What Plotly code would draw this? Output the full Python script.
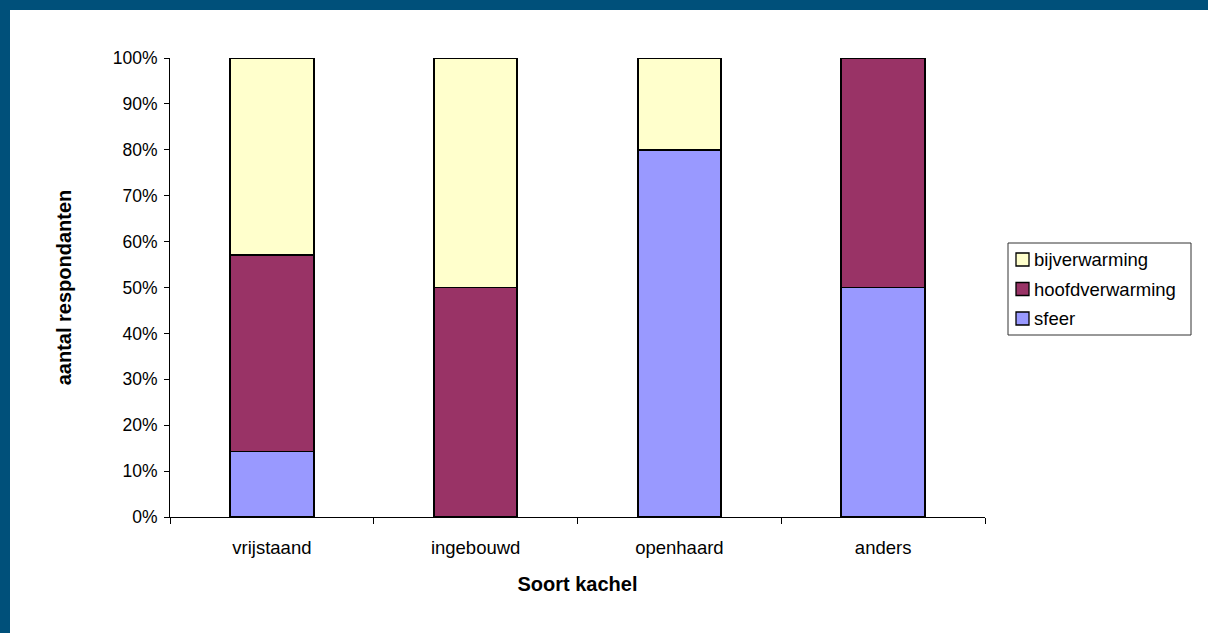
import plotly.graph_objects as go

# Aantal respondenten per soort kachel en gebruik
categories = ["vrijstaand", "ingebouwd", "openhaard", "anders"]
sfeer = [1, 0, 4, 1]
hoofdverwarming = [3, 1, 0, 1]
bijverwarming = [3, 1, 1, 0]

y_ticks = [0, 10, 20, 30, 40, 50, 60, 70, 80, 90, 100]
y_tick_labels = [f"{v}%" for v in y_ticks]

W, H = 1208, 633
L, R, T, B = 170, 223, 58, 116
FONT = "Liberation Sans, Arial, sans-serif"

series = [
    ("sfeer", sfeer, "#9999FF"),
    ("hoofdverwarming", hoofdverwarming, "#993366"),
    ("bijverwarming", bijverwarming, "#FFFFCC"),
]

pw, ph = W - L - R, H - T - B


def px(x):
    return (x - L) / pw


def py(y):
    return (H - B - y) / ph


fig = go.Figure()
for name, vals, color in series:
    fig.add_trace(go.Bar(
        name=name, x=categories, y=vals, showlegend=False,
        marker=dict(color=color, line=dict(color="black", width=1.8)),
    ))

shapes = [
    # witte achtergrond; het blauwe canvas blijft links en boven zichtbaar
    dict(type="rect", xref="paper", yref="paper", layer="below",
         x0=px(10), x1=px(W + 5), y0=py(H + 5), y1=py(10),
         fillcolor="white", line=dict(width=0)),
    # legendakader
    dict(type="rect", xref="paper", yref="paper",
         x0=px(1008), x1=px(1191), y0=py(335), y1=py(243),
         fillcolor="white", line=dict(color="#333333", width=1)),
]
annotations = []
# legenda-items van boven naar beneden: bijverwarming, hoofdverwarming, sfeer
for i, (name, _, color) in enumerate(reversed(series)):
    cy = 259.5 + i * 29.5
    shapes.append(dict(
        type="rect", xref="paper", yref="paper",
        x0=px(1016), x1=px(1029), y0=py(cy + 6.5), y1=py(cy - 6.5),
        fillcolor=color, line=dict(color="black", width=1.3),
    ))
    annotations.append(dict(
        xref="paper", yref="paper", x=px(1032), y=py(cy),
        xanchor="left", yanchor="middle", showarrow=False,
        text=name, font=dict(family=FONT, size=18.5, color="black"),
    ))

fig.update_layout(
    width=W, height=H,
    margin=dict(l=L, r=R, t=T, b=B, pad=0),
    paper_bgcolor="#00507A",
    plot_bgcolor="white",
    barmode="stack",
    barnorm="percent",
    bargap=0.59,
    font=dict(family=FONT, color="black", size=18),
    showlegend=False,
    shapes=shapes,
    annotations=annotations,
    xaxis=dict(
        showline=True, linecolor="black", linewidth=1,
        ticks="outside", ticklen=6, tickcolor="black",
        tickson="boundaries",
        ticklabelstandoff=14,
        tickfont=dict(family=FONT, size=18.5),
        title=dict(text="<b>Soort kachel</b>", font=dict(family=FONT, size=20), standoff=19),
        showgrid=False, zeroline=False,
    ),
    yaxis=dict(
        range=[0, 100],
        tickvals=y_ticks, ticktext=y_tick_labels,
        showline=True, linecolor="black", linewidth=1,
        ticks="outside", ticklen=5, tickcolor="black",
        ticklabelstandoff=3,
        tickfont=dict(family=FONT, size=17.5),
        title=dict(text="<b>aantal respondanten</b>", font=dict(family=FONT, size=20), standoff=35),
        showgrid=False, zeroline=False,
    ),
)

fig.write_html("out.html")
